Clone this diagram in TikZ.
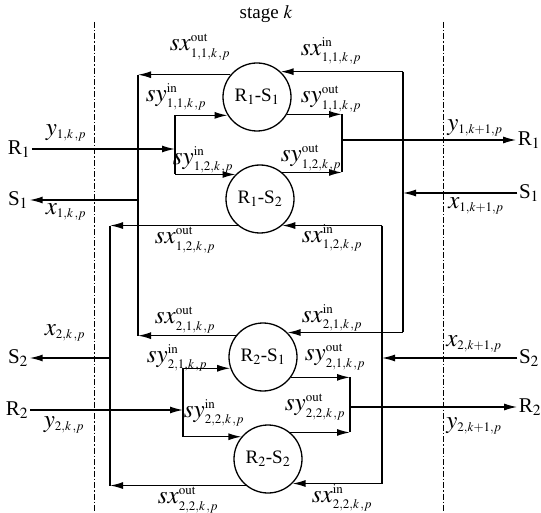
\documentclass[tikz,border=0pt]{standalone}
\usepackage{mathptmx}
\usepackage[no-math]{fontspec}
\setmainfont{Liberation Serif}
\DeclareMathSizes{25}{25}{13}{10}
\usetikzlibrary{arrows.meta}
\tikzset{
  lbl/.style={inner sep=1pt, font=\fontsize{25}{27}\selectfont},
  ttl/.style={inner sep=1pt, font=\fontsize{19}{22}\selectfont},
  side/.style={inner sep=1.5pt, font=\fontsize{21}{24}\selectfont},
  unit/.style={draw, circle, line width=1.3pt, minimum size=68pt, inner sep=0pt, font=\fontsize{19}{22}\selectfont},
  wire/.style={line width=1.4pt},
  arr/.style={line width=1.4pt, -{Latex[length=13pt,width=7pt]}},
  border/.style={line width=1pt, dash pattern=on 6pt off 2pt on 1.5pt off 2pt}
}
\begin{document}
\begin{tikzpicture}[x=1pt,y=-1pt]
\useasboundingbox (0,0) rectangle (541,513);
% stage borders
\coordinate (dlt) at (94,22);
\coordinate (dlb) at (94,513);
\coordinate (drt) at (443,22);
\coordinate (drb) at (443,513);
\draw[border] (dlt) -- (dlb);
\draw[border] (drt) -- (drb);
\node[ttl] (stage) at (266,14) {stage $k$};
% units
\node[unit] (c11) at (257,97) {R$_1$-S$_1$};
\node[unit] (c12) at (260,199) {R$_1$-S$_2$};
\node[unit] (c21) at (263,357) {R$_2$-S$_1$};
\node[unit] (c22) at (268,459) {R$_2$-S$_2$};
% side terminals
\node[side] (R1L) at (19,149) {R$_1$};
\node[side] (S1L) at (18,200) {S$_1$};
\node[side] (S2L) at (18,358) {S$_2$};
\node[side] (R2L) at (17,410) {R$_2$};
\node[side] (R1R) at (529,140) {R$_1$};
\node[side] (S1R) at (529,193) {S$_1$};
\node[side] (S2R) at (529,358) {S$_2$};
\node[side] (R2R) at (530,407) {R$_2$};
% bus x positions
\coordinate (bA) at (138,0);
\coordinate (bB) at (110,0);
\coordinate (bC) at (403,0);
\coordinate (bD) at (382,0);
\coordinate (jR1) at (175,0);
\coordinate (jR2) at (183,0);
\coordinate (oR1) at (342,0);
\coordinate (oR2) at (350,0);
% sx out -> left buses
\draw[arr] (c11.140) -- (c11.140 -| bA);
\draw[arr] (c21.142) -- (c21.142 -| bA);
\draw[wire] (c11.140 -| bA) -- (c21.142 -| bA);
\draw[arr] (S1L.east -| bA) -- (S1L.east);
\draw[arr] (c12.230) -- (c12.230 -| bB);
\draw[arr] (c22.230) -- (c22.230 -| bB);
\draw[wire] (c12.230 -| bB) -- (c22.230 -| bB);
\draw[arr] (S2L.east -| bB) -- (S2L.east);
% sx in <- right buses
\draw[wire] (c11.47 -| bC) -- (c21.45 -| bC);
\draw[arr] (c11.47 -| bC) -- (c11.47);
\draw[arr] (c21.45 -| bC) -- (c21.45);
\draw[arr] (S1R.west) -- (S1R.west -| bC);
\draw[wire] (c12.310 -| bD) -- (c22.315 -| bD);
\draw[arr] (c12.310 -| bD) -- (c12.310);
\draw[arr] (c22.315 -| bD) -- (c22.315);
\draw[arr] (S2R.west) -- (S2R.west -| bD);
% R1 split
\draw[arr] (R1L.east) -- (R1L.east -| jR1);
\draw[wire] (c11.212 -| jR1) -- (c12.135 -| jR1);
\draw[arr] (c11.212 -| jR1) -- (c11.212);
\draw[arr] (c12.135 -| jR1) -- (c12.135);
% R1 merge
\draw[arr] (c11.330) -- (c11.330 -| oR1);
\draw[arr] (c12.50) -- (c12.50 -| oR1);
\draw[wire] (c11.330 -| oR1) -- (c12.50 -| oR1);
\draw[arr] (R1R.west -| oR1) -- (R1R.west);
% R2 split
\draw[arr] (R2L.east) -- (R2L.east -| jR2);
\draw[wire] (c21.199 -| jR2) -- (c22.140 -| jR2);
\draw[arr] (c21.199 -| jR2) -- (c21.199);
\draw[arr] (c22.140 -| jR2) -- (c22.140);
% R2 merge
\draw[arr] (c21.324) -- (c21.324 -| oR2);
\draw[arr] (c22.50) -- (c22.50 -| oR2);
\draw[wire] (c21.324 -| oR2) -- (c22.50 -| oR2);
\draw[arr] (R2R.west -| oR2) -- (R2R.west);
% labels
\node[lbl] (l1) at (200,47) {$sx^{\mathrm{out}}_{1,1,k\,,p}$};
\node[lbl] (l2) at (331,51) {$sx^{\mathrm{in}}_{1,1,k\,,p}$};
\node[lbl] (l3) at (176,97) {$sy^{\mathrm{in}}_{1,1,k\,,p}$};
\node[lbl] (l4) at (331,99) {$sy^{\mathrm{out}}_{1,1,k\,,p}$};
\node[lbl] (l5) at (66,133) {$y_{1,k\,,p}$};
\node[lbl] (l6) at (203,160) {$sy^{\mathrm{in}}_{1,2,k\,,p}$};
\node[lbl] (l7) at (311,158) {$sy^{\mathrm{out}}_{1,2,k\,,p}$};
\node[lbl] (l8) at (475,128) {$y_{1,k+1,p}$};
\node[lbl] (l9) at (66,212) {$x_{1,k\,,p}$};
\node[lbl] (l10) at (476,206) {$x_{1,k+1,p}$};
\node[lbl] (l11) at (185,240) {$sx^{\mathrm{out}}_{1,2,k\,,p}$};
\node[lbl] (l12) at (332,238) {$sx^{\mathrm{in}}_{1,2,k\,,p}$};
\node[lbl] (l13) at (185,320) {$sx^{\mathrm{out}}_{2,1,k\,,p}$};
\node[lbl] (l14) at (65,333) {$x_{2,k\,,p}$};
\node[lbl] (l15) at (332,318) {$sx^{\mathrm{in}}_{2,1,k\,,p}$};
\node[lbl] (l16) at (177,358) {$sy^{\mathrm{in}}_{2,1,k\,,p}$};
\node[lbl] (l17) at (335,357) {$sy^{\mathrm{out}}_{2,1,k\,,p}$};
\node[lbl] (l18) at (474,344) {$x_{2,k+1,p}$};
\node[lbl] (l19) at (214,413) {$sy^{\mathrm{in}}_{2,2,k\,,p}$};
\node[lbl] (l20) at (315,407) {$sy^{\mathrm{out}}_{2,2,k\,,p}$};
\node[lbl] (l21) at (64,425) {$y_{2,k\,,p}$};
\node[lbl] (l22) at (474,426) {$y_{2,k+1,p}$};
\node[lbl] (l23) at (188,500) {$sx^{\mathrm{out}}_{2,2,k\,,p}$};
\node[lbl] (l24) at (342,498) {$sx^{\mathrm{in}}_{2,2,k\,,p}$};
\end{tikzpicture}
\end{document}
